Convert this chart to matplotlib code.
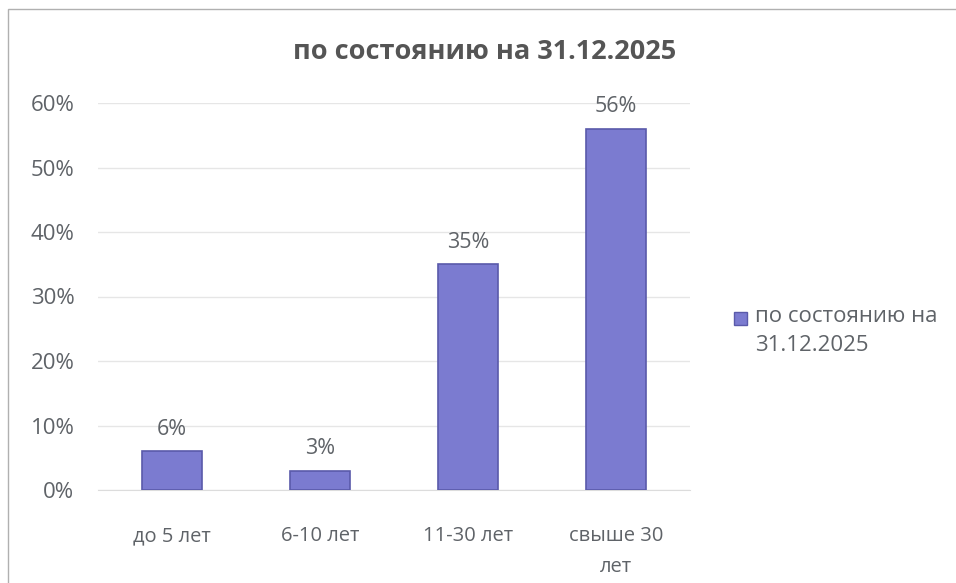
import matplotlib.pyplot as plt
import numpy as np
from matplotlib.patches import Rectangle

plt.rcParams['font.family'] = ['Open Sans', 'DejaVu Sans']

categories = ["до 5 лет", "6-10 лет", "11-30 лет", "свыше 30\nлет"]
values = [6, 3, 35, 56]
title = "по состоянию на 31.12.2025"
legend_label = "по состоянию на\n31.12.2025"

text_color = "#5f6368"
bar_color = "#7b7bd0"
edge_color = "#5a5aaa"

fig = plt.figure(figsize=(9.56, 5.83), dpi=100)
ax = fig.add_axes([98 / 956, 1 - 490 / 583, (690 - 98) / 956, (490 - 103) / 583])

x = np.arange(len(categories))
bars = ax.bar(x, values, width=0.41, color=bar_color, edgecolor=edge_color, linewidth=1.2, zorder=3)
for b, v in zip(bars, values):
    ax.text(b.get_x() + b.get_width() / 2, v + 1.8, f"{v}%", ha="center", va="bottom",
            fontsize=15.5, color=text_color)

ax.set_ylim(0, 60)
ax.set_xlim(-0.5, len(categories) - 0.5)
ax.set_yticks(np.arange(0, 61, 10))
ax.set_yticklabels([f"{t}%" for t in range(0, 61, 10)])
ax.set_xticks(x)
ax.set_xticklabels(categories, linespacing=1.75)
ax.tick_params(axis="y", length=0, pad=17, labelsize=16, labelcolor=text_color)
ax.tick_params(axis="x", length=0, pad=26, labelsize=14.5, labelcolor=text_color)
ax.grid(axis="y", color="#e6e6e6", linewidth=1, zorder=0)
for s in ["top", "right", "left"]:
    ax.spines[s].set_visible(False)
ax.spines["bottom"].set_color("#dcdcdc")

fig.text(485 / 956, 1 - 52 / 583, title, ha="center", va="center", fontsize=19.5,
         fontweight="bold", color="#555555")

# legend
fig.patches.append(Rectangle((734 / 956, 1 - 325 / 583), 13 / 956, 13 / 583,
                             transform=fig.transFigure, facecolor=bar_color,
                             edgecolor=edge_color, linewidth=1))
fig.text(755 / 956, 1 - 306 / 583, legend_label, ha="left", va="top", fontsize=16,
         color=text_color, linespacing=1.5)

# chart frame
fig.patches.append(Rectangle((8 / 956, -0.01), 1.0, 1 - 9 / 583 + 0.01,
                             transform=fig.transFigure, fill=False,
                             edgecolor="#b0b0b0", linewidth=1))

fig.savefig("out.png", dpi=100)
